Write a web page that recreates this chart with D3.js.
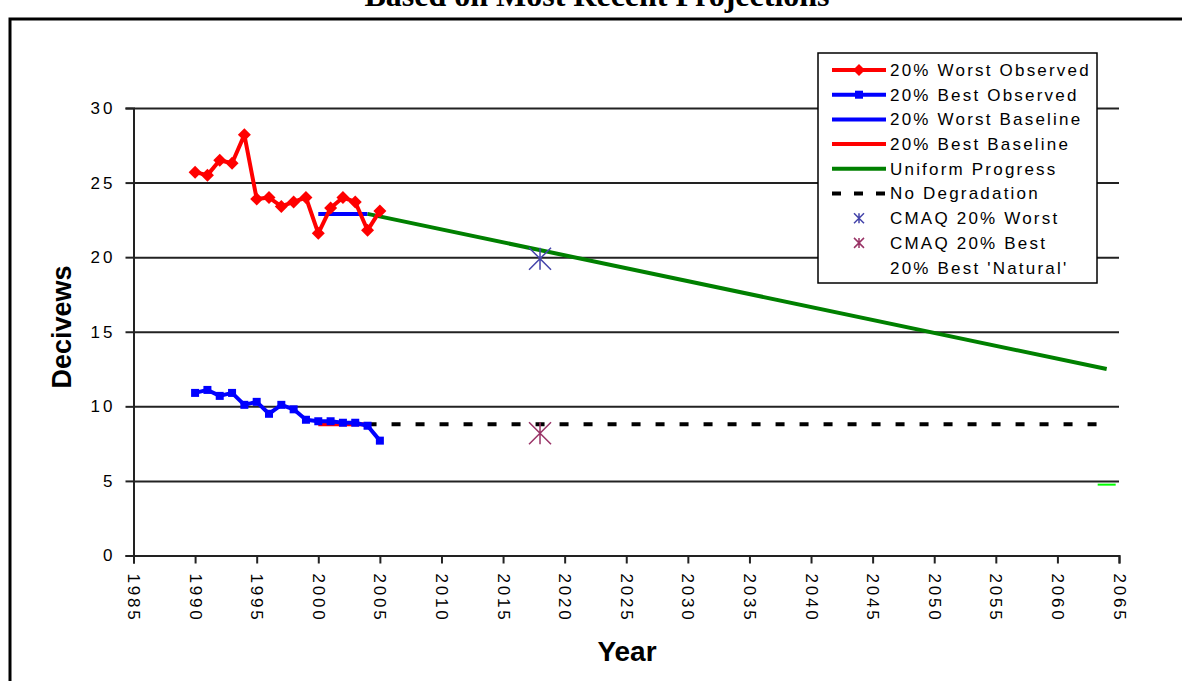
<!DOCTYPE html>
<html>
<head>
<meta charset="utf-8">
<script src="https://cdn.jsdelivr.net/npm/d3@7"></script>
<style>
  html, body { margin: 0; padding: 0; background: #fff; }
  svg { display: block; }
  text { font-family: "Liberation Sans", Arial, sans-serif; }
</style>
</head>
<body>
<svg id="chart" width="1182" height="681"></svg>
<script>
// ---- data ----
const observedYears = [1990,1991,1992,1993,1994,1995,1996,1997,1998,1999,2000,2001,2002,2003,2004,2005];
const worstObserved = [25.7,25.5,26.5,26.3,28.2,23.9,24.0,23.4,23.7,24.0,21.6,23.3,24.0,23.7,21.8,23.1];
const bestObserved  = [10.9,11.1,10.7,10.9,10.1,10.3,9.5,10.1,9.8,9.1,9.0,9.0,8.9,8.9,8.7,7.7];
const baselineYears = [2000, 2004];
const worstBaseline = [22.9, 22.9];
const bestBaseline  = [8.8, 8.8];
const progressYears = [2004, 2064];
const uniformProgress = [22.9, 12.5];
const noDegradation   = [8.8, 8.8];
const cmaqYear = [2018];
const cmaqWorst = [19.9];
const cmaqBest  = [8.2];
const naturalYear = [2064];
const bestNatural = [4.75];
const xTicks = [1985,1990,1995,2000,2005,2010,2015,2020,2025,2030,2035,2040,2045,2050,2055,2060,2065];
const yTicks = [0,5,10,15,20,25,30];
const legendLabels = ["20% Worst Observed","20% Best Observed","20% Worst Baseline","20% Best Baseline",
  "Uniform Progress","No Degradation","CMAQ 20% Worst","CMAQ 20% Best","20% Best 'Natural'"];
const titleText = "Based on Most Recent Projections";
const xTitle = "Year";
const yTitle = "Decivews";

// ---- drawing ----
const svg = d3.select("#chart");
const x = d3.scaleLinear().domain([1985, 2065]).range([133.5, 1119]);
const y = d3.scaleLinear().domain([0, 30]).range([555.5, 108]);

const RED = "#ff0000", BLUE = "#0000ff", GREEN = "#008000";

// frame
svg.append("path").attr("d", "M10,684 L10,19 L1190,19")
  .attr("fill", "none").attr("stroke", "#000").attr("stroke-width", 3);

// title (cut off at top, as in the source)
svg.append("text").attr("x", 597).attr("y", 6).attr("text-anchor", "middle")
  .style("font-family", "'Liberation Serif', 'Times New Roman', serif")
  .style("font-weight", "bold").style("font-size", "32px").text(titleText);

// gridlines
svg.append("g").attr("transform", `translate(${x(1985)},0)`)
  .call(d3.axisLeft(y).tickValues(yTicks.filter(d => d > 0)).tickSize(-(x(2065) - x(1985))).tickFormat(""))
  .call(g => g.select(".domain").remove())
  .call(g => g.selectAll("line").attr("stroke", "#222").attr("stroke-width", 2));

// y axis
const yAxis = svg.append("g").attr("transform", `translate(${x(1985)},0)`)
  .call(d3.axisLeft(y).tickValues(yTicks).tickSize(8).tickPadding(10));
yAxis.select(".domain").attr("stroke", "#222").attr("stroke-width", 2);
yAxis.selectAll("line").attr("stroke", "#222").attr("stroke-width", 2);
yAxis.selectAll("text").style("font-size", "17px").style("letter-spacing", "3px")
  .attr("fill", "#000").style("font-family", "'Liberation Sans', Arial, sans-serif");

// x axis
const xAxis = svg.append("g").attr("transform", `translate(0,${y(0)})`)
  .call(d3.axisBottom(x).tickValues(xTicks).tickSize(8).tickFormat(d3.format("d")));
xAxis.select(".domain").attr("stroke", "#222").attr("stroke-width", 2);
xAxis.selectAll("line").attr("stroke", "#222").attr("stroke-width", 2);
xAxis.selectAll("text")
  .attr("transform", "rotate(90)").attr("x", 18).attr("y", 0).attr("dy", "0.35em")
  .attr("text-anchor", "start").attr("fill", "#000")
  .style("font-size", "17px").style("letter-spacing", "2.8px")
  .style("font-family", "'Liberation Sans', Arial, sans-serif");

// axis titles
svg.append("text").attr("x", 627).attr("y", 661).attr("text-anchor", "middle")
  .style("font-weight", "bold").style("font-size", "28px").text(xTitle);
svg.append("text").attr("transform", "translate(71,327) rotate(-90)").attr("text-anchor", "middle")
  .style("font-weight", "bold").style("font-size", "27px").text(yTitle);

const line = d3.line().x(d => x(d[0])).y(d => y(d[1]));
const zip = (a, b) => a.map((v, i) => [v, b[i]]);

// baselines
svg.append("path").datum(zip(baselineYears, bestBaseline)).attr("d", line)
  .attr("fill", "none").attr("stroke", RED).attr("stroke-width", 4);
svg.append("path").datum(zip(baselineYears, worstBaseline)).attr("d", line)
  .attr("fill", "none").attr("stroke", BLUE).attr("stroke-width", 4);

// uniform progress
svg.append("path").datum(zip(progressYears, uniformProgress)).attr("d", line)
  .attr("fill", "none").attr("stroke", GREEN).attr("stroke-width", 4);

// no degradation
svg.append("path").datum(zip(progressYears, noDegradation)).attr("d", line)
  .attr("fill", "none").attr("stroke", "#000").attr("stroke-width", 4)
  .attr("stroke-dasharray", "9,15");

// worst observed
const wData = zip(observedYears, worstObserved);
svg.append("path").datum(wData).attr("d", line)
  .attr("fill", "none").attr("stroke", RED).attr("stroke-width", 4).attr("stroke-linejoin", "round");
svg.append("g").selectAll("path").data(wData).join("path")
  .attr("transform", d => `translate(${x(d[0])},${y(d[1])})`)
  .attr("d", "M0,-6.5 L6.5,0 L0,6.5 L-6.5,0 Z").attr("fill", RED);

// best observed
const bData = zip(observedYears, bestObserved);
svg.append("path").datum(bData).attr("d", line)
  .attr("fill", "none").attr("stroke", BLUE).attr("stroke-width", 4).attr("stroke-linejoin", "round");
svg.append("g").selectAll("rect").data(bData).join("rect")
  .attr("x", d => x(d[0]) - 4).attr("y", d => y(d[1]) - 4)
  .attr("width", 8).attr("height", 8).attr("fill", BLUE);

// CMAQ asterisks
const star = r => `M${-r},${-r}L${r},${r}M${r},${-r}L${-r},${r}M0,${-r}L0,${r}`;
svg.append("g").selectAll("path").data(zip(cmaqYear, cmaqWorst)).join("path")
  .attr("transform", d => `translate(${x(d[0])},${y(d[1])})`)
  .attr("d", star(11)).attr("fill", "none").attr("stroke", "#4444aa").attr("stroke-width", 1.5);
svg.append("g").selectAll("path").data(zip(cmaqYear, cmaqBest)).join("path")
  .attr("transform", d => `translate(${x(d[0])},${y(d[1])})`)
  .attr("d", star(11)).attr("fill", "none").attr("stroke", "#993366").attr("stroke-width", 1.5);

// natural (dash marker)
svg.append("g").selectAll("line").data(zip(naturalYear, bestNatural)).join("line")
  .attr("x1", d => x(d[0]) - 9).attr("x2", d => x(d[0]) + 9)
  .attr("y1", d => y(d[1])).attr("y2", d => y(d[1]))
  .attr("stroke", "#00ff00").attr("stroke-width", 2);

// ---- legend ----
const lg = svg.append("g");
lg.append("rect").attr("x", 818).attr("y", 53).attr("width", 279).attr("height", 230)
  .attr("fill", "#fff").attr("stroke", "#000").attr("stroke-width", 1.5);
const rowY = i => 70 + i * 24.7;
const lx1 = 832, lx2 = 886, lxm = 859;
legendLabels.forEach((lab, i) => {
  const yy = rowY(i);
  lg.append("text").attr("x", 890).attr("y", yy).attr("dy", "0.35em")
    .style("font-size", "17px").style("letter-spacing", "2.2px").text(lab);
});
const seg = (i, color, dash) => lg.append("line").attr("x1", lx1).attr("x2", lx2)
  .attr("y1", rowY(i)).attr("y2", rowY(i)).attr("stroke", color).attr("stroke-width", 4)
  .attr("stroke-dasharray", dash || null);
seg(0, RED); lg.append("path").attr("transform", `translate(${lxm},${rowY(0)})`)
  .attr("d", "M0,-6 L6,0 L0,6 L-6,0 Z").attr("fill", RED);
seg(1, BLUE); lg.append("rect").attr("x", lxm - 4).attr("y", rowY(1) - 4).attr("width", 8).attr("height", 8).attr("fill", BLUE);
seg(2, BLUE);
seg(3, RED);
seg(4, GREEN);
seg(5, "#000", "9,13");
lg.append("path").attr("transform", `translate(${lxm},${rowY(6)})`).attr("d", star(5))
  .attr("fill", "none").attr("stroke", "#4444aa").attr("stroke-width", 1.5);
lg.append("path").attr("transform", `translate(${lxm},${rowY(7)})`).attr("d", star(5))
  .attr("fill", "none").attr("stroke", "#993366").attr("stroke-width", 1.5);
</script>
</body>
</html>
